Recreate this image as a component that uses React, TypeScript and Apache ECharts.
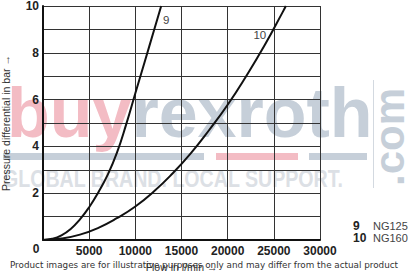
import React, { useEffect, useRef } from 'react';
import * as echarts from 'echarts';

// Curve identifiers and legend names
const curveNumbers = ['9', '10'];
const seriesNames = ['NG125', 'NG160'];

// Curve 9 (NG125): flow in l/min vs pressure differential in bar
const flow9 = [0, 1000, 2000, 3000, 4000, 5000, 6000, 7000, 8000, 9000, 10000, 11000, 12000, 12800];
const dp9 = [0, 0.05, 0.2, 0.47, 0.88, 1.4, 2.04, 2.78, 3.72, 4.93, 6.27, 7.6, 8.93, 10.0];

// Curve 10 (NG160)
const flow10 = [0, 2000, 4000, 6000, 8000, 10000, 12000, 14000, 16000, 18000, 20000, 22000, 24000, 26000, 26300];
const dp10 = [0, 0.06, 0.23, 0.52, 0.93, 1.43, 2.07, 2.83, 3.7, 4.7, 5.78, 7.0, 8.32, 9.77, 10.0];

// Where the curve numbers are written (data coords)
const curveLabelFlow = [13340, 23480];
const curveLabelDp = [9.4, 8.76];

// Axes
const xMin = 0, xMax = 30000, xStep = 5000;
const yMin = 0, yMax = 10, yStep = 1, yLabelStep = 2;

const xTitle = 'Flow in l/min →';
const yTitle = 'Pressure differential in bar →';
const disclaimer = 'Product images are for illustrative purposes only and may differ from the actual product';

export default function App() {
  const ref = useRef<HTMLDivElement>(null);
  useEffect(() => {
    if (!ref.current) return;
    const chart = echarts.init(ref.current, null, { renderer: 'svg' });
    const curves = [flow9.map((x, i) => [x, dp9[i]]), flow10.map((x, i) => [x, dp10[i]])];
    const pink = '#f3bcc4';
    const grey = '#c6cfd9';
    const font = 'Liberation Sans';
    chart.setOption({
      animation: false,
      backgroundColor: '#ffffff',
      textStyle: { fontFamily: font },
      grid: { left: 43, top: 6, right: 88, bottom: 34, containLabel: false, outerBoundsMode: 'none' },
      xAxis: {
        type: 'value',
        min: xMin,
        max: xMax,
        interval: xStep,
        axisLine: { show: true, lineStyle: { color: '#111', width: 2 } },
        axisTick: { show: false },
        splitLine: { show: true, lineStyle: { color: '#333', width: 1 } },
        axisLabel: {
          showMinLabel: false,
          margin: 5,
          fontFamily: font,
          fontWeight: 'bold',
          fontSize: 12,
          color: '#222',
          formatter: (v: number) => (v === 0 ? '' : String(v)),
        },
        name: xTitle,
        nameLocation: 'middle',
        nameGap: 21,
        nameTextStyle: { fontFamily: font, fontSize: 10.5, color: '#333' },
      },
      yAxis: {
        type: 'value',
        min: yMin,
        max: yMax,
        interval: yStep,
        axisLine: { show: true, lineStyle: { color: '#111', width: 2 } },
        axisTick: { show: false },
        splitLine: { show: true, lineStyle: { color: '#333', width: 1 } },
        axisLabel: {
          margin: 4,
          fontFamily: font,
          fontWeight: 'bold',
          fontSize: 12,
          color: '#222',
          formatter: (v: number) => (v !== 0 && v % yLabelStep === 0 ? String(v) : ''),
        },
        name: yTitle,
        nameLocation: 'middle',
        nameGap: 32,
        nameTextStyle: { fontFamily: font, fontSize: 10.5, color: '#333' },
      },
      legend: {
        orient: 'vertical',
        left: 347,
        top: 220,
        padding: 0,
        itemGap: 0,
        itemWidth: 0,
        itemHeight: 0,
        selectedMode: false,
        data: seriesNames,
        itemStyle: { opacity: 0 },
        lineStyle: { opacity: 0 },
        formatter: (name: string) => `{n|${curveNumbers[seriesNames.indexOf(name)]}}{t|${name}}`,
        textStyle: {
          rich: {
            n: { fontFamily: font, fontWeight: 'bold', fontSize: 12, width: 20, color: '#222' },
            t: { fontFamily: font, fontSize: 11, color: '#444' },
          },
        },
      },
      series: curves.map((data, i) => ({
        name: seriesNames[i],
        type: 'line',
        data,
        smooth: 0.5,
        symbol: 'none',
        lineStyle: { color: '#111', width: 2 },
        itemStyle: { color: '#111' },
        markPoint: {
          silent: true,
          symbol: 'circle',
          symbolSize: 0,
          itemStyle: { color: '#444' },
          data: [{ coord: [curveLabelFlow[i], curveLabelDp[i]], value: curveNumbers[i] }],
          label: {
            show: true,
            position: 'inside',
            formatter: curveNumbers[i],
            fontFamily: font,
            fontSize: 11.5,
            color: '#444',
          },
        },
      })),
      graphic: [
        {
          type: 'text',
          z: -10,
          x: 7,
          y: 113,
          silent: true,
          style: {
            text: '{a|buy}{b|rexroth}',
            verticalAlign: 'middle',
            rich: {
              a: { fontFamily: font, fontWeight: 'bold', fontSize: 70, fill: pink },
              b: { fontFamily: font, fontWeight: 'bold', fontSize: 70, fill: grey },
            },
          },
        },
        { type: 'rect', z: -10, silent: true, shape: { x: 3, y: 153, width: 201, height: 7 }, style: { fill: grey } },
        { type: 'rect', z: -10, silent: true, shape: { x: 216, y: 153, width: 82, height: 7 }, style: { fill: pink } },
        { type: 'rect', z: -10, silent: true, shape: { x: 309, y: 153, width: 58, height: 7 }, style: { fill: grey } },
        {
          type: 'text',
          z: -10,
          silent: true,
          x: 3,
          y: 178.5,
          scaleY: 1.25,
          style: {
            text: 'GLOBAL BRAND. LOCAL SUPPORT.',
            verticalAlign: 'middle',
            fontFamily: font,
            fontWeight: 'bold',
            fontSize: 19.6,
            fill: '#dce0e5',
          },
        },
        {
          type: 'line',
          z: -10,
          silent: true,
          shape: { x1: 373.5, y1: 80, x2: 373.5, y2: 188 },
          style: { stroke: '#d3d9e0', lineWidth: 1 },
        },
        {
          type: 'text',
          z: -10,
          silent: true,
          x: 389,
          y: 137,
          rotation: Math.PI / 2,
          style: {
            text: '.com',
            align: 'center',
            verticalAlign: 'middle',
            fontFamily: font,
            fontWeight: 'bold',
            fontSize: 42,
            fill: grey,
          },
        },
        {
          type: 'text',
          silent: true,
          x: 39.5,
          y: 248.5,
          style: {
            text: '0',
            align: 'right',
            verticalAlign: 'middle',
            fontFamily: font,
            fontWeight: 'bold',
            fontSize: 12,
            fill: '#222',
          },
        },
        {
          type: 'text',
          z: 100,
          silent: true,
          x: 204,
          y: 265,
          style: {
            text: disclaimer,
            align: 'center',
            verticalAlign: 'middle',
            fontFamily: 'DejaVu Sans',
            fontSize: 8.8,
            fill: '#333',
          },
        },
      ],
    });
    return () => chart.dispose();
  }, []);
  return <div ref={ref} style={{ position: 'fixed', left: 0, top: 0, width: 408, height: 274 }} />;
}
